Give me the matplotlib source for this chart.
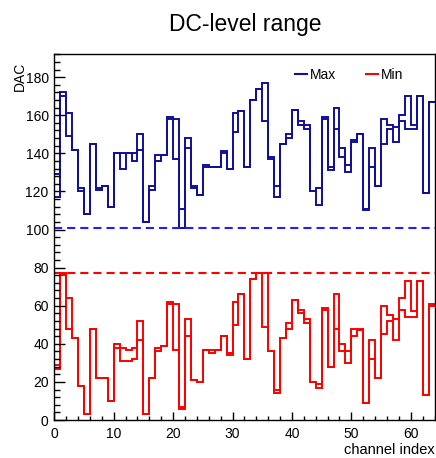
import matplotlib
matplotlib.use("Agg")
import matplotlib.pyplot as plt
from matplotlib.lines import Line2D
from matplotlib.ticker import MultipleLocator
import numpy as np

plt.rcParams["font.family"] = ["Liberation Sans", "DejaVu Sans"]

# channel bin edges 0..64
n_channels = 64

# upper DC level per channel (two scans)
max_a = [129, 172, 161, 142, 122, 108, 145, 122, 123, 112,
         140, 140, 140, 140, 150, 104, 123, 139, 139, 159,
         158, 111, 148, 123, 118, 134, 133, 133, 141, 132,
         161, 162, 133, 168, 174, 177, 138, 123, 145, 150,
         163, 157, 155, 120, 122, 159, 133, 164, 143, 134,
         147, 150, 111, 143, 123, 158, 155, 154, 160, 170,
         155, 170, 119, 167]
max_b = [117, 170, 149, 142, 120, 108, 145, 121, 123, 112,
         140, 132, 140, 136, 142, 104, 121, 136, 139, 158,
         137, 101, 143, 122, 118, 133, 133, 133, 140, 132,
         151, 162, 133, 168, 174, 157, 137, 117, 145, 148,
         163, 155, 153, 120, 113, 158, 131, 153, 138, 130,
         146, 150, 110, 133, 123, 145, 153, 146, 157, 153,
         153, 170, 119, 167]

# lower DC level per channel (two scans)
min_a = [29, 77, 64, 43, 18, 3, 48, 22, 22, 10,
         40, 38, 37, 38, 52, 3, 22, 38, 39, 62,
         61, 7, 53, 21, 20, 37, 37, 37, 44, 35,
         62, 66, 32, 74, 77, 77, 36, 16, 43, 51,
         63, 58, 53, 20, 19, 59, 28, 66, 40, 36,
         48, 48, 9, 42, 22, 60, 55, 53, 64, 73,
         57, 73, 13, 61]
min_b = [27, 76, 48, 43, 18, 3, 48, 22, 22, 10,
         38, 31, 31, 32, 42, 3, 22, 36, 39, 61,
         37, 6, 44, 21, 20, 37, 35, 37, 44, 34,
         50, 66, 32, 74, 77, 49, 36, 14, 43, 48,
         63, 56, 51, 20, 17, 58, 28, 48, 36, 30,
         44, 47, 9, 32, 22, 45, 52, 42, 58, 54,
         54, 73, 13, 60]

edges = np.arange(n_channels + 1)
blue = "#10109a"
red = "#ff0000"

fig = plt.figure(figsize=(4.36, 4.58), dpi=100)
ax = fig.add_axes([54.3 / 436, 38 / 458, 380.2 / 436, 365.7 / 458])

for vals in (max_a, max_b):
    ax.stairs(vals, edges, baseline=None, color=blue, lw=1.4)
for vals in (min_a, min_b):
    ax.stairs(vals, edges, baseline=None, color=red, lw=1.4)

# lowest maximum and highest minimum over all channels
lowest_max = min(min(max_a), min(max_b))
highest_min = max(max(min_a), max(min_b))
ax.axhline(lowest_max, color="#2020ff", lw=1.5, ls=(0, (3.9, 2.4)))
ax.axhline(highest_min, color=red, lw=1.5, ls=(0, (3.9, 2.4)))

ax.set_xlim(0, 64)
ax.set_ylim(0, 192)
ax.xaxis.set_major_locator(MultipleLocator(10))
ax.xaxis.set_minor_locator(MultipleLocator(2))
ax.yaxis.set_major_locator(MultipleLocator(20))
ax.yaxis.set_minor_locator(MultipleLocator(4))
ax.tick_params(axis="both", which="both", direction="in", top=False, right=False,
               labelsize=10, width=1)
ax.tick_params(axis="y", which="major", length=8, pad=4)
ax.tick_params(axis="y", which="minor", length=4.3)
ax.tick_params(axis="x", which="major", length=6, pad=5)
ax.tick_params(axis="x", which="minor", length=3)
for s in ax.spines.values():
    s.set_linewidth(1.0)

handles = [Line2D([], [], color=blue, lw=1.5), Line2D([], [], color=red, lw=1.5)]
ax.legend(handles, ["Max", "Min"], ncol=2, frameon=False, fontsize=10,
          loc="center left", bbox_to_anchor=(0.633, 0.943), borderpad=0,
          borderaxespad=0, handlelength=0.9, handletextpad=0.2, columnspacing=2.1)

fig.text(245 / 436, 1 - 24 / 458, "DC-level range", ha="center", va="center", fontsize=16.5)
fig.text(20 / 436, 1 - 62 / 458, "DAC", rotation=90, ha="center", va="top", fontsize=10)
fig.text(435 / 436, 1 - 450 / 458, "channel index", ha="right", va="center", fontsize=10.5)

fig.savefig("out.png", dpi=100)
